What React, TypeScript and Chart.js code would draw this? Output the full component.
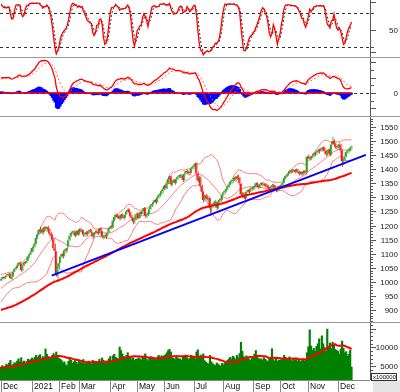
import React, { useEffect, useRef } from "react";
import { Chart, registerables } from "chart.js";

Chart.register(...registerables);

// ---------- history closes (Jul-Nov 2020), only used to warm up indicators ----------
const histJul20 = [870, 874, 872, 868, 866, 868, 871, 866, 860, 857, 851, 846, 838, 795, 802, 815, 810, 812];
const histAug20 = [805, 790, 800, 815, 822, 828, 834, 838, 842, 846, 852, 856, 860, 857, 862, 866, 870, 873, 878, 880, 884];
const histSep20 = [886, 889, 892, 895, 899, 894, 890, 893, 896, 899, 902, 904, 899, 895, 897, 901, 904, 900, 905, 903, 905];
const histOct20 = [910, 915, 920, 924, 928, 930, 933, 935, 932, 929, 934, 938, 940, 936, 933, 930, 935, 938, 934, 929, 925, 926];
const histNov20 = [935, 942, 948, 955, 962, 967, 972, 978, 981, 985, 990, 986, 992, 998, 995, 1003, 1008, 1004];
const histVolNov20 = [4200, 4600, 4400, 4800, 4300, 4500, 4900, 4700, 4100, 4400, 4600, 5000, 4800, 4300, 4500, 4700, 4400, 4600, 4900, 5100];

// ---------- daily candles [open, high, low, close] ----------
const dec20 = [
  [1005, 1014, 1003, 1010], [1011, 1018, 1008, 1016], [1017, 1020, 1009, 1013], [1013, 1021, 1010, 1018],
  [1019, 1026, 1016, 1023], [1024, 1029, 1019, 1024], [1025, 1032, 1022, 1028], [1029, 1031, 1010, 1013],
  [1012, 1022, 1007, 1019], [1020, 1037, 1018, 1035], [1036, 1048, 1034, 1046], [1047, 1054, 1043, 1050],
  [1051, 1060, 1047, 1058], [1059, 1069, 1056, 1067], [1068, 1072, 1060, 1065], [1064, 1066, 1036, 1042],
  [1040, 1060, 1038, 1058], [1059, 1071, 1056, 1069], [1070, 1074, 1063, 1067], [1068, 1079, 1066, 1075],
  [1076, 1092, 1075, 1090], [1091, 1099, 1086, 1097], [1098, 1106, 1095, 1104],
];
const jan21 = [
  [1106, 1122, 1104, 1120], [1121, 1127, 1108, 1125], [1126, 1138, 1122, 1135], [1136, 1158, 1134, 1156],
  [1157, 1170, 1152, 1168], [1169, 1188, 1166, 1184], [1185, 1196, 1172, 1180], [1181, 1190, 1170, 1185],
  [1186, 1192, 1168, 1176], [1177, 1196, 1175, 1194], [1195, 1199, 1180, 1189], [1190, 1197, 1178, 1192],
  [1193, 1199, 1181, 1187], [1186, 1190, 1162, 1171], [1170, 1178, 1158, 1166], [1165, 1170, 1140, 1151],
  [1150, 1155, 1110, 1119], [1118, 1135, 1102, 1111], [1108, 1110, 1018, 1024], [1022, 1060, 1003, 1056],
];
const feb21 = [
  [1058, 1072, 1045, 1066], [1068, 1094, 1066, 1090], [1092, 1104, 1085, 1098], [1099, 1103, 1083, 1091],
  [1092, 1116, 1090, 1112], [1113, 1120, 1102, 1111], [1112, 1124, 1108, 1120], [1125, 1152, 1123, 1148],
  [1150, 1167, 1146, 1164], [1165, 1177, 1160, 1174], [1175, 1182, 1168, 1177], [1178, 1183, 1166, 1175],
  [1174, 1178, 1158, 1164], [1165, 1184, 1163, 1180], [1181, 1185, 1164, 1168],
];
const mar21 = [
  [1169, 1190, 1167, 1186], [1187, 1192, 1175, 1180], [1179, 1188, 1174, 1183], [1182, 1185, 1160, 1168],
  [1167, 1176, 1160, 1169], [1170, 1182, 1165, 1175], [1176, 1179, 1162, 1170], [1171, 1186, 1169, 1181],
  [1182, 1189, 1176, 1181], [1180, 1186, 1171, 1175], [1174, 1176, 1152, 1160], [1161, 1175, 1158, 1172],
  [1173, 1182, 1168, 1177], [1178, 1185, 1172, 1177], [1176, 1180, 1166, 1172], [1173, 1192, 1171, 1189],
  [1190, 1194, 1176, 1180], [1179, 1181, 1155, 1161], [1160, 1168, 1150, 1160], [1161, 1170, 1156, 1163],
  [1164, 1168, 1152, 1162], [1163, 1178, 1161, 1175], [1176, 1193, 1174, 1191],
];
const apr21 = [
  [1192, 1199, 1188, 1196], [1197, 1201, 1186, 1192], [1193, 1221, 1192, 1218], [1219, 1234, 1216, 1231],
  [1232, 1242, 1228, 1238], [1239, 1243, 1225, 1231], [1230, 1237, 1224, 1232], [1233, 1238, 1218, 1225],
  [1224, 1241, 1222, 1238], [1239, 1243, 1228, 1232], [1231, 1236, 1221, 1227], [1228, 1242, 1226, 1239],
  [1240, 1254, 1238, 1251], [1252, 1262, 1248, 1256], [1257, 1260, 1240, 1246], [1245, 1250, 1228, 1232],
  [1231, 1238, 1220, 1226], [1225, 1229, 1205, 1214], [1213, 1224, 1206, 1220], [1221, 1242, 1219, 1239],
];
const may21 = [
  [1240, 1246, 1222, 1239], [1238, 1244, 1222, 1227], [1228, 1250, 1226, 1247], [1248, 1253, 1238, 1242],
  [1243, 1256, 1240, 1250], [1251, 1266, 1248, 1262], [1261, 1264, 1228, 1235], [1234, 1245, 1226, 1241],
  [1242, 1249, 1234, 1242], [1243, 1262, 1240, 1258], [1259, 1276, 1256, 1272], [1273, 1282, 1266, 1276],
  [1277, 1288, 1272, 1283], [1284, 1294, 1280, 1290], [1291, 1294, 1276, 1283], [1284, 1303, 1282, 1300],
  [1301, 1311, 1297, 1308], [1309, 1316, 1302, 1312], [1313, 1325, 1308, 1322], [1323, 1331, 1316, 1328],
];
const jun21 = [
  [1329, 1343, 1325, 1340], [1341, 1346, 1328, 1334], [1333, 1352, 1330, 1349], [1350, 1367, 1347, 1364],
  [1365, 1377, 1360, 1374], [1375, 1378, 1340, 1347], [1346, 1361, 1342, 1358], [1359, 1366, 1352, 1362],
  [1363, 1366, 1345, 1351], [1352, 1367, 1350, 1364], [1365, 1376, 1361, 1373], [1374, 1380, 1368, 1376],
  [1377, 1382, 1369, 1375], [1376, 1383, 1371, 1378], [1377, 1379, 1355, 1362], [1361, 1386, 1359, 1383],
  [1384, 1396, 1381, 1393], [1394, 1398, 1384, 1390], [1389, 1394, 1380, 1387], [1388, 1393, 1378, 1387],
  [1388, 1406, 1386, 1403], [1404, 1412, 1398, 1408],
];
const jul21 = [
  [1409, 1416, 1401, 1411], [1412, 1424, 1408, 1420], [1421, 1424, 1380, 1385], [1384, 1392, 1352, 1360],
  [1359, 1376, 1350, 1370], [1371, 1374, 1335, 1340], [1339, 1345, 1314, 1320], [1319, 1322, 1282, 1291],
  [1290, 1310, 1285, 1305], [1306, 1312, 1294, 1300], [1301, 1308, 1290, 1296], [1295, 1305, 1288, 1298],
  [1297, 1299, 1234, 1262], [1260, 1276, 1250, 1272], [1273, 1280, 1262, 1275], [1276, 1288, 1271, 1282],
  [1283, 1292, 1278, 1285], [1284, 1286, 1255, 1263], [1262, 1285, 1260, 1283], [1284, 1296, 1280, 1292],
  [1293, 1298, 1284, 1292], [1293, 1312, 1290, 1310],
];
const aug21 = [
  [1311, 1322, 1306, 1318], [1319, 1326, 1312, 1322], [1323, 1334, 1318, 1330], [1331, 1341, 1325, 1337],
  [1338, 1350, 1334, 1346], [1347, 1358, 1343, 1355], [1356, 1362, 1348, 1357], [1358, 1366, 1352, 1362],
  [1363, 1373, 1358, 1370], [1371, 1375, 1356, 1364], [1365, 1380, 1362, 1374], [1375, 1381, 1363, 1370],
  [1369, 1372, 1344, 1349], [1348, 1350, 1303, 1311], [1310, 1320, 1298, 1314], [1315, 1318, 1296, 1306],
  [1305, 1310, 1290, 1296], [1297, 1322, 1295, 1320], [1321, 1330, 1315, 1325], [1326, 1329, 1312, 1320],
  [1321, 1335, 1318, 1331], [1332, 1337, 1324, 1331],
];
const sep21 = [
  [1332, 1340, 1326, 1333], [1334, 1342, 1328, 1336], [1337, 1353, 1335, 1350], [1351, 1354, 1338, 1344],
  [1343, 1347, 1330, 1335], [1336, 1350, 1333, 1347], [1348, 1354, 1342, 1350], [1351, 1355, 1340, 1346],
  [1345, 1352, 1339, 1345], [1346, 1350, 1336, 1343], [1344, 1349, 1335, 1342], [1341, 1344, 1330, 1335],
  [1334, 1338, 1322, 1328], [1329, 1341, 1326, 1338], [1339, 1348, 1335, 1343], [1344, 1349, 1337, 1344],
  [1343, 1345, 1327, 1331], [1330, 1334, 1318, 1326], [1325, 1331, 1319, 1327], [1328, 1343, 1326, 1340],
];
const oct21 = [
  [1341, 1345, 1330, 1335], [1336, 1348, 1333, 1344], [1345, 1354, 1340, 1352], [1353, 1371, 1350, 1368],
  [1369, 1379, 1365, 1376], [1377, 1383, 1372, 1380], [1381, 1390, 1377, 1386], [1387, 1398, 1383, 1394],
  [1395, 1399, 1385, 1391], [1392, 1399, 1387, 1395], [1396, 1400, 1389, 1396], [1397, 1401, 1385, 1391],
  [1392, 1403, 1388, 1398], [1399, 1402, 1386, 1392], [1391, 1395, 1378, 1385], [1386, 1393, 1380, 1389],
  [1390, 1394, 1376, 1383], [1384, 1396, 1380, 1391], [1392, 1397, 1384, 1388], [1389, 1395, 1380, 1388],
  [1390, 1447, 1389, 1444],
];
const nov21 = [
  [1445, 1452, 1436, 1440], [1441, 1447, 1430, 1438], [1439, 1448, 1434, 1441], [1442, 1452, 1438, 1446],
  [1447, 1460, 1443, 1456], [1457, 1463, 1446, 1454], [1455, 1466, 1451, 1461], [1462, 1472, 1458, 1467],
  [1468, 1473, 1455, 1464], [1465, 1477, 1462, 1473], [1474, 1479, 1463, 1470], [1471, 1482, 1466, 1476],
  [1477, 1480, 1460, 1466], [1465, 1469, 1445, 1453], [1452, 1464, 1448, 1458], [1459, 1474, 1456, 1470],
  [1471, 1476, 1446, 1452], [1453, 1492, 1450, 1488], [1489, 1515, 1486, 1500], [1501, 1506, 1485, 1490],
  [1489, 1495, 1472, 1480], [1481, 1488, 1470, 1478],
];
const dec21 = [
  [1479, 1490, 1474, 1482], [1483, 1496, 1480, 1487], [1486, 1490, 1458, 1466], [1465, 1470, 1408, 1428],
  [1427, 1440, 1415, 1434], [1435, 1450, 1430, 1446], [1447, 1464, 1443, 1461], [1462, 1470, 1455, 1466],
  [1467, 1474, 1459, 1469], [1470, 1480, 1464, 1476], [1477, 1484, 1470, 1479],
];

// ---------- volume (x100000 shares) ----------
const volDec20 = [4800, 5200, 4600, 5000, 5600, 5300, 5900, 6600, 5100, 5500, 6000, 5800, 6400, 7000, 6100, 7300, 6000, 6400, 5700, 6300, 6900, 6600, 6800];
const volJan21 = [7200, 6800, 7400, 7900, 7300, 7800, 8100, 7000, 7600, 7300, 9600, 8200, 7600, 7400, 7000, 7900, 8400, 7800, 8800, 7600];
const volFeb21 = [7100, 6900, 6500, 5900, 6200, 5400, 5100, 6300, 6900, 6600, 5800, 6200, 6500, 6100, 5600];
const volMar21 = [6500, 6200, 5900, 6800, 5700, 5800, 6100, 6400, 5900, 5600, 6600, 6200, 5900, 6100, 5800, 6900, 6300, 7200, 6600, 5900, 6100, 6400, 7000];
const volApr21 = [7600, 6500, 7800, 8200, 7400, 7100, 6800, 10100, 9200, 8300, 7600, 7200, 7900, 8600, 7700, 7400, 6800, 7300, 6600, 6900];
const volMay21 = [6900, 7200, 7000, 6600, 7400, 7700, 8300, 6900, 6400, 7100, 7600, 6800, 7300, 7000, 6700, 7500, 7900, 7400, 7800, 7600];
const volJun21 = [7800, 8100, 8600, 9200, 9500, 8800, 7300, 7100, 6800, 7400, 7200, 6900, 7000, 6600, 7500, 7800, 8000, 7300, 6800, 7100, 7900, 7600];
const volJul21 = [7600, 6900, 8800, 9400, 7200, 8000, 7600, 8300, 6500, 6100, 5800, 5600, 7900, 6200, 5700, 5400, 5200, 5900, 5600, 5300, 5000, 5800];
const volAug21 = [5400, 5900, 6200, 6600, 7000, 7400, 6900, 7700, 7300, 6800, 7900, 7200, 8400, 11400, 9000, 7600, 7000, 7800, 7400, 6900, 6600, 7100];
const volSep21 = [7300, 8200, 9200, 7600, 7100, 6800, 7000, 6600, 7300, 6900, 6500, 6200, 7000, 7400, 9700, 6800, 6400, 7200, 6300, 6700];
const volOct21 = [6600, 6900, 7200, 7900, 7400, 6800, 7100, 7500, 6700, 6400, 6900, 6600, 7200, 6300, 6800, 6200, 6500, 6900, 6400, 6600, 8600];
const volNov21 = [10200, 14700, 10400, 9200, 9800, 9000, 10300, 11000, 12300, 9600, 13100, 11000, 10000, 8900, 14900, 10200, 11200, 9700, 11400, 10600, 9500, 9200];
const volDec21 = [9000, 8200, 9600, 11700, 9800, 8600, 8900, 7700, 8200, 9300, 4800];

const monthLabels = ["Dec", "2021", "Feb", "Mar", "Apr", "May", "Jun", "Jul", "Aug", "Sep", "Oct", "Nov", "Dec"];

// trend line end points (trading-day index, index value)
const trendDays = [37.6, 270.6];
const trendValues = [1022, 1451];

const stochLevels = [80, 20];
const priceLabels = [900, 950, 1000, 1050, 1100, 1150, 1200, 1250, 1300, 1350, 1400, 1450, 1500, 1550];
const volLabels = [5000, 10000];

// ---------- derived series ----------
const monthsOHLC = [dec20, jan21, feb21, mar21, apr21, may21, jun21, jul21, aug21, sep21, oct21, nov21, dec21];
const monthsVol = [volDec20, volJan21, volFeb21, volMar21, volApr21, volMay21, volJun21, volJul21, volAug21, volSep21, volOct21, volNov21, volDec21];
const ohlc: number[][] = monthsOHLC.flat();
const volumes: number[] = monthsVol.flat();
const N = ohlc.length;
const monthStarts: number[] = [];
{
  let acc = 0;
  monthsOHLC.forEach((m) => { monthStarts.push(acc); acc += m.length; });
}
const histClose = [...histJul20, ...histAug20, ...histSep20, ...histOct20, ...histNov20];
const H0 = histClose.length;
const closes = ohlc.map((d) => d[3]);
const allC = histClose.concat(closes);
const allH = histClose.concat(ohlc.map((d) => d[1]));
const allL = histClose.concat(ohlc.map((d) => d[2]));

function smaAt(arr: number[], end: number, n: number) {
  let s = 0;
  for (let k = end - n + 1; k <= end; k++) s += arr[k];
  return s / n;
}
function emaSeries(arr: number[], n: number) {
  const a = 2 / (n + 1);
  const out = [arr[0]];
  for (let k = 1; k < arr.length; k++) out.push(out[k - 1] + a * (arr[k] - out[k - 1]));
  return out;
}

const ma100 = closes.map((_, i) => smaAt(allC, H0 + i, 100));
const bbMid = closes.map((_, i) => smaAt(allC, H0 + i, 20));
const bbSd = closes.map((_, i) => {
  const m = bbMid[i];
  let s = 0;
  for (let k = H0 + i - 19; k <= H0 + i; k++) s += (allC[k] - m) ** 2;
  return Math.sqrt(s / 20);
});
const bbUp = bbMid.map((m, i) => m + 2 * bbSd[i]);
const bbLo = bbMid.map((m, i) => m - 2 * bbSd[i]);

const e12 = emaSeries(allC, 12);
const e26 = emaSeries(allC, 26);
const macdAll = allC.map((_, k) => e12[k] - e26[k]);
const sigAll = emaSeries(macdAll, 9);
const macd = closes.map((_, i) => macdAll[H0 + i]);
const signal = closes.map((_, i) => sigAll[H0 + i]);
const macdHist = macd.map((m, i) => m - signal[i]);

const fastK = allC.map((c, k) => {
  if (k < 13) return 50;
  let hh = -Infinity, ll = Infinity;
  for (let j = k - 13; j <= k; j++) { hh = Math.max(hh, allH[j]); ll = Math.min(ll, allL[j]); }
  return hh === ll ? 50 : (100 * (c - ll)) / (hh - ll);
});
const slowKAll = fastK.map((_, k) => (k < 2 ? fastK[k] : (fastK[k] + fastK[k - 1] + fastK[k - 2]) / 3));
const dAll = slowKAll.map((_, k) => (k < 2 ? slowKAll[k] : (slowKAll[k] + slowKAll[k - 1] + slowKAll[k - 2]) / 3));
const slowK = closes.map((_, i) => slowKAll[H0 + i]);
const stochD = closes.map((_, i) => dAll[H0 + i]);

const allV = histVolNov20.concat(volumes);
const volMa = volumes.map((_, i) => smaAt(allV, histVolNov20.length + i, 20));

const pts = (arr: number[]) => arr.map((v, i) => ({ x: i, y: v }));

// ---------- layout ----------
const X_MIN = -0.75;
const X_MAX = 273.7;
const AXIS_X = 370;
const FONT = '8px "Liberation Sans", Arial, sans-serif';

function baseOptions(yMin: number, yMax: number, padBottom = 0): any {
  return {
    responsive: false,
    animation: false,
    devicePixelRatio: 1,
    events: [],
    layout: { padding: { left: 0, right: 400 - AXIS_X, top: 0, bottom: padBottom } },
    plugins: { legend: { display: false }, tooltip: { enabled: false } },
    scales: {
      x: { type: "linear", min: X_MIN, max: X_MAX, display: false, offset: false },
      y: { type: "linear", min: yMin, max: yMax, display: false },
    },
  };
}

type Tick = { v: number; len: number; label?: string };

function axisPlugin(ticks: Tick[], topLine: boolean, axisBottom?: number): any {
  return {
    id: "rightAxis",
    afterDraw(chart: any) {
      const ctx = chart.ctx;
      const ys = chart.scales.y;
      const bottom = axisBottom ?? chart.height;
      ctx.save();
      ctx.strokeStyle = "#555";
      ctx.lineWidth = 1;
      ctx.beginPath();
      ctx.moveTo(AXIS_X + 0.5, 0);
      ctx.lineTo(AXIS_X + 0.5, bottom);
      for (const t of ticks) {
        const py = Math.round(ys.getPixelForValue(t.v)) + 0.5;
        ctx.moveTo(AXIS_X + 1, py);
        ctx.lineTo(AXIS_X + 1 + t.len, py);
      }
      ctx.stroke();
      ctx.fillStyle = "#222";
      ctx.font = FONT;
      ctx.textAlign = "right";
      ctx.textBaseline = "middle";
      for (const t of ticks) {
        if (t.label) ctx.fillText(t.label, 398, Math.round(ys.getPixelForValue(t.v)) + 0.5);
      }
      if (topLine) {
        ctx.strokeStyle = "#999";
        ctx.beginPath();
        ctx.moveTo(0, 0.5);
        ctx.lineTo(400, 0.5);
        ctx.stroke();
      }
      ctx.restore();
    },
  };
}

function hLinesPlugin(values: number[], color: string): any {
  return {
    id: "hLines",
    beforeDatasetsDraw(chart: any) {
      const ctx = chart.ctx;
      const ys = chart.scales.y;
      ctx.save();
      ctx.strokeStyle = color;
      ctx.lineWidth = 1;
      ctx.setLineDash([3, 3]);
      ctx.beginPath();
      for (const v of values) {
        const py = Math.round(ys.getPixelForValue(v)) + 0.5;
        ctx.moveTo(0, py);
        ctx.lineTo(AXIS_X, py);
      }
      ctx.stroke();
      ctx.restore();
    },
  };
}

const xLabelsPlugin: any = {
  id: "xLabels",
  afterDraw(chart: any) {
    const ctx = chart.ctx;
    const xs = chart.scales.x;
    const bottom = chart.chartArea.bottom;
    ctx.save();
    ctx.fillStyle = "#e4e4e4";
    ctx.fillRect(AXIS_X + 3, bottom, 400 - AXIS_X - 3, chart.height - bottom);
    ctx.strokeStyle = "#888";
    ctx.lineWidth = 1;
    ctx.beginPath();
    ctx.moveTo(0, bottom + 0.5);
    ctx.lineTo(AXIS_X, bottom + 0.5);
    monthStarts.forEach((d) => {
      const px = Math.round(xs.getPixelForValue(d)) + 0.5;
      ctx.moveTo(px, bottom);
      ctx.lineTo(px, chart.height);
    });
    ctx.stroke();
    ctx.fillStyle = "#111";
    ctx.font = '8.5px "Liberation Sans", Arial, sans-serif';
    ctx.textAlign = "left";
    ctx.textBaseline = "middle";
    monthStarts.forEach((d, k) => {
      const px = Math.round(xs.getPixelForValue(d));
      ctx.fillText(monthLabels[k], px + 2, bottom + 7);
    });
    // unit box
    ctx.fillStyle = "#fff";
    ctx.fillRect(AXIS_X + 1, bottom - 7, 26, 8);
    ctx.strokeStyle = "#333";
    ctx.strokeRect(AXIS_X + 1.5, bottom - 6.5, 25, 7);
    ctx.fillStyle = "#111";
    ctx.font = '6px "Liberation Sans", Arial, sans-serif';
    ctx.fillText("x100000", AXIS_X + 3, bottom - 3);
    ctx.restore();
  },
};

// ---------- panel builders ----------
function buildStoch(canvas: HTMLCanvasElement) {
  const ticks: Tick[] = [
    { v: 100, len: 5 }, { v: 80, len: 3 }, { v: 50, len: 5, label: "50" }, { v: 20, len: 3 }, { v: 10, len: 5 },
  ];
  return new Chart(canvas, {
    type: "line",
    data: {
      datasets: [
        { data: pts(slowK), borderColor: "#ff0000", borderWidth: 1.3, pointRadius: 0, order: 1 },
        { data: pts(stochD), borderColor: "#333", borderWidth: 1, borderDash: [2, 2], pointRadius: 0, order: 2 },
      ],
    } as any,
    options: baseOptions(1.8, 103.6),
    plugins: [hLinesPlugin(stochLevels, "#333"), axisPlugin(ticks, false)],
  } as any);
}

function buildMacd(canvas: HTMLCanvasElement) {
  const ticks: Tick[] = [
    { v: 40, len: 5 }, { v: 30, len: 3 }, { v: 20, len: 5 }, { v: 10, len: 3 }, { v: 0, len: 5, label: "0" },
    { v: -10, len: 3 }, { v: -20, len: 5 },
  ];
  const zero = [{ x: 0, y: 0 }, { x: N - 1, y: 0 }];
  return new Chart(canvas, {
    type: "line",
    data: {
      datasets: [
        { data: pts(macd), borderColor: "#ff0000", borderWidth: 1.3, pointRadius: 0, order: 1 },
        { data: pts(signal), borderColor: "#ff5a5a", borderWidth: 1, borderDash: [2, 2], pointRadius: 0, order: 2 },
        { data: zero, borderColor: "#ff0000", borderWidth: 1.5, pointRadius: 0, order: 3 },
        { type: "bar", data: pts(macdHist), backgroundColor: "#0000ff", barThickness: 2, order: 4 },
      ],
    } as any,
    options: baseOptions(-30, 47),
    plugins: [hLinesPlugin([0], "#333"), axisPlugin(ticks, true)],
  } as any);
}

function buildPrice(canvas: HTMLCanvasElement) {
  const ticks: Tick[] = [];
  for (let v = 860; v <= 1580; v += 10) {
    const major = v % 50 === 0;
    ticks.push({ v, len: major ? 5 : 2, label: major && priceLabels.includes(v) ? String(v) : undefined });
  }
  const up = "#22a322";
  const dn = "#ff1010";
  const colors = ohlc.map((d) => (d[3] >= d[0] ? up : dn));
  return new Chart(canvas, {
    type: "line",
    data: {
      datasets: [
        { data: trendDays.map((d, k) => ({ x: d, y: trendValues[k] })), borderColor: "#0000ff", borderWidth: 2, pointRadius: 0, order: 1 },
        { data: pts(ma100), borderColor: "#ff0000", borderWidth: 2, pointRadius: 0, order: 2 },
        { type: "bar", data: ohlc.map((d, i) => ({ x: i, y: [d[0], d[3]] })), backgroundColor: colors, barThickness: 1.4, minBarLength: 1, inflateAmount: 0, order: 3 },
        { type: "bar", data: ohlc.map((d, i) => ({ x: i, y: [d[2], d[1]] })), backgroundColor: colors, barThickness: 0.8, inflateAmount: 0, order: 4 },
        { data: pts(bbUp), borderColor: "#ff7878", borderWidth: 1, pointRadius: 0, order: 5 },
        { data: pts(bbMid), borderColor: "#ff7878", borderWidth: 1, pointRadius: 0, order: 5 },
        { data: pts(bbLo), borderColor: "#ff7878", borderWidth: 1, pointRadius: 0, order: 5 },
      ],
    } as any,
    options: baseOptions(857.4, 1589.1),
    plugins: [axisPlugin(ticks, true)],
  } as any);
}

function buildVolume(canvas: HTMLCanvasElement) {
  const ticks: Tick[] = [];
  for (let v = 2000; v <= 16000; v += 1000) {
    const major = v % 5000 === 0;
    ticks.push({ v, len: major ? 5 : 2, label: major && volLabels.includes(v) ? String(v) : undefined });
  }
  return new Chart(canvas, {
    type: "line",
    data: {
      datasets: [
        { data: pts(volMa), borderColor: "#ff0000", borderWidth: 2, pointRadius: 0, order: 1 },
        { type: "bar", data: pts(volumes), backgroundColor: "#008000", barThickness: 1.5, order: 2 },
      ],
    } as any,
    options: baseOptions(1356, 16782, 12),
    plugins: [axisPlugin(ticks, true, 58), xLabelsPlugin],
  } as any);
}

function Panel({ top, height, build }: { top: number; height: number; build: (c: HTMLCanvasElement) => Chart }) {
  const ref = useRef<HTMLCanvasElement>(null);
  useEffect(() => {
    if (!ref.current) return;
    const chart = build(ref.current);
    return () => chart.destroy();
  }, []);
  return (
    <canvas
      ref={ref}
      width={400}
      height={height}
      style={{ position: "absolute", left: 0, top, width: 400, height, display: "block" }}
    />
  );
}

export default function App() {
  return (
    <div style={{ position: "absolute", left: 0, top: 0, width: 400, height: 392, background: "#fff", overflow: "hidden" }}>
      <Panel top={0} height={57} build={buildStoch} />
      <Panel top={57} height={59} build={buildMacd} />
      <Panel top={116} height={206} build={buildPrice} />
      <Panel top={322} height={70} build={buildVolume} />
    </div>
  );
}
